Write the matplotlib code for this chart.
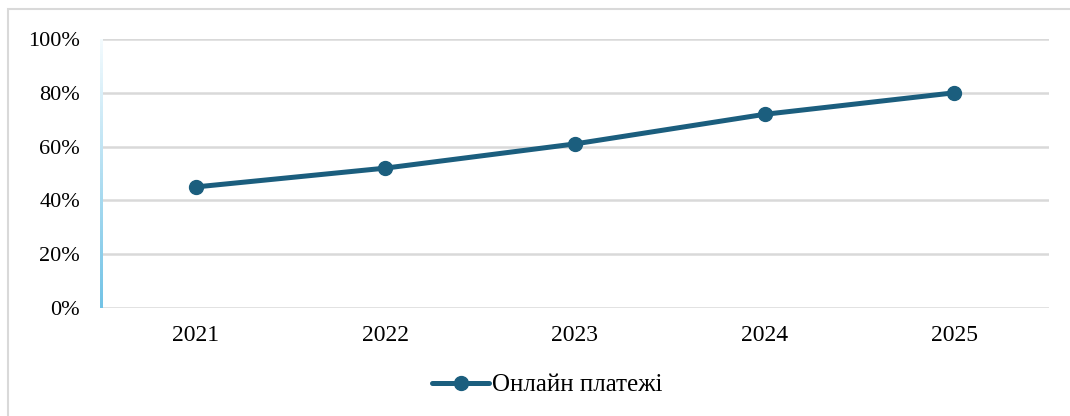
import numpy as np
import matplotlib.pyplot as plt
from matplotlib.patches import Rectangle
from matplotlib.ticker import PercentFormatter

# data
years = ['2021', '2022', '2023', '2024', '2025']
online = [45, 52, 61, 72, 80]
series_name = 'Онлайн платежі'

plt.rcParams['font.family'] = ['Liberation Serif', 'DejaVu Serif']

fig = plt.figure(figsize=(10.70, 4.16), dpi=100)
ax = fig.add_axes([101 / 1070, 1 - 308 / 416, 948 / 1070, 269 / 416])

# outer frame of the chart
fig.patches.append(Rectangle((8 / 1070, -0.05), 1.2, 1 - 9 / 416 + 0.05,
                             transform=fig.transFigure, fill=False,
                             edgecolor='#d9d9d9', linewidth=1.5))

x = np.arange(len(years))
ax.plot(x, online, color='#1b5e7e', linewidth=3.6, marker='o', markersize=10,
        label=series_name, zorder=3, solid_capstyle='round')

ax.set_xlim(-0.5, len(years) - 0.5)
ax.set_ylim(0, 100)
ax.set_yticks(range(0, 101, 20))
ax.yaxis.set_major_formatter(PercentFormatter(decimals=0))
ax.set_xticks(x)
ax.set_xticklabels(years)
ax.tick_params(length=0, colors='#000000')
ax.tick_params(axis='y', pad=15, labelsize=16)
ax.tick_params(axis='x', pad=12, labelsize=17)
ax.grid(axis='y', color='#d9d9d9', linewidth=1.8)
ax.set_axisbelow(True)
for s in ax.spines.values():
    s.set_visible(False)

# gradient left axis line
gax = fig.add_axes([100 / 1070, 1 - 308 / 416, 3 / 1070, 269 / 416])
grad = np.linspace(0, 1, 256).reshape(-1, 1)
cmap = plt.matplotlib.colors.LinearSegmentedColormap.from_list('g', ['#f4fbfe', '#72c3e6'])
gax.imshow(grad, aspect='auto', cmap=cmap, origin='upper')
gax.axis('off')

ax.legend(loc='center', bbox_to_anchor=(547 / 1070, 1 - 385 / 416), bbox_transform=fig.transFigure,
          frameon=False, fontsize=18, handlelength=2.3, handletextpad=0.1)

fig.savefig('out.png', dpi=100)
